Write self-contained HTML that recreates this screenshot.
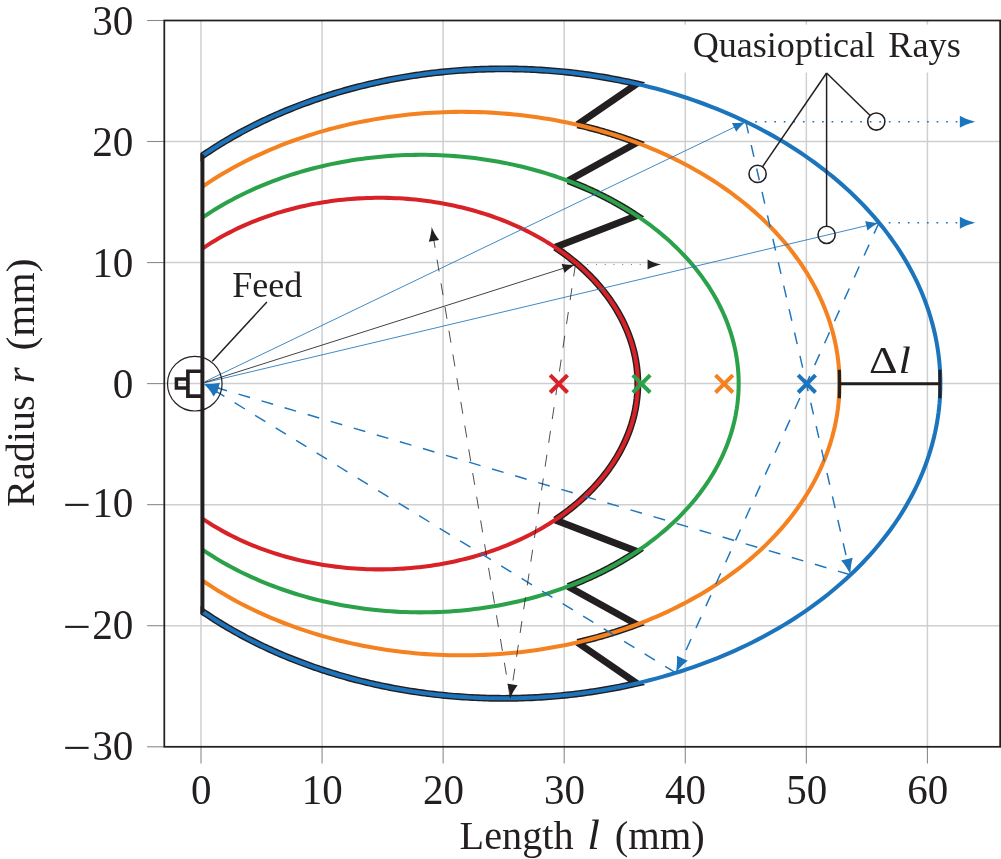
<!DOCTYPE html>
<html><head><meta charset="utf-8"><title>Lens</title>
<style>html,body{margin:0;padding:0;background:#fff;}svg{display:block;will-change:transform;}</style></head>
<body>
<svg width="1001" height="859" viewBox="0 0 1001 859">
<rect width="1001" height="859" fill="#fff"/>
<line x1="201" y1="20.5" x2="201" y2="746.8" stroke="#cfcfcf" stroke-width="1.5"/>
<line x1="322.07" y1="20.5" x2="322.07" y2="746.8" stroke="#cfcfcf" stroke-width="1.5"/>
<line x1="443.14" y1="20.5" x2="443.14" y2="746.8" stroke="#cfcfcf" stroke-width="1.5"/>
<line x1="564.21" y1="20.5" x2="564.21" y2="746.8" stroke="#cfcfcf" stroke-width="1.5"/>
<line x1="685.28" y1="20.5" x2="685.28" y2="746.8" stroke="#cfcfcf" stroke-width="1.5"/>
<line x1="806.35" y1="20.5" x2="806.35" y2="746.8" stroke="#cfcfcf" stroke-width="1.5"/>
<line x1="927.42" y1="20.5" x2="927.42" y2="746.8" stroke="#cfcfcf" stroke-width="1.5"/>
<line x1="164.3" y1="625.7" x2="1000.15" y2="625.7" stroke="#cfcfcf" stroke-width="1.5"/>
<line x1="164.3" y1="504.65" x2="1000.15" y2="504.65" stroke="#cfcfcf" stroke-width="1.5"/>
<line x1="164.3" y1="383.6" x2="1000.15" y2="383.6" stroke="#cfcfcf" stroke-width="1.5"/>
<line x1="164.3" y1="262.55" x2="1000.15" y2="262.55" stroke="#cfcfcf" stroke-width="1.5"/>
<line x1="164.3" y1="141.5" x2="1000.15" y2="141.5" stroke="#cfcfcf" stroke-width="1.5"/>
<line x1="201" y1="746.8" x2="201" y2="763.6" stroke="#8a8a8a" stroke-width="1.1"/>
<line x1="322.07" y1="746.8" x2="322.07" y2="763.6" stroke="#8a8a8a" stroke-width="1.1"/>
<line x1="443.14" y1="746.8" x2="443.14" y2="763.6" stroke="#8a8a8a" stroke-width="1.1"/>
<line x1="564.21" y1="746.8" x2="564.21" y2="763.6" stroke="#8a8a8a" stroke-width="1.1"/>
<line x1="685.28" y1="746.8" x2="685.28" y2="763.6" stroke="#8a8a8a" stroke-width="1.1"/>
<line x1="806.35" y1="746.8" x2="806.35" y2="763.6" stroke="#8a8a8a" stroke-width="1.1"/>
<line x1="927.42" y1="746.8" x2="927.42" y2="763.6" stroke="#8a8a8a" stroke-width="1.1"/>
<line x1="147.1" y1="746.8" x2="164.3" y2="746.8" stroke="#8a8a8a" stroke-width="1.1"/>
<line x1="147.1" y1="625.7" x2="164.3" y2="625.7" stroke="#8a8a8a" stroke-width="1.1"/>
<line x1="147.1" y1="504.65" x2="164.3" y2="504.65" stroke="#8a8a8a" stroke-width="1.1"/>
<line x1="147.1" y1="383.6" x2="164.3" y2="383.6" stroke="#8a8a8a" stroke-width="1.1"/>
<line x1="147.1" y1="262.55" x2="164.3" y2="262.55" stroke="#8a8a8a" stroke-width="1.1"/>
<line x1="147.1" y1="141.5" x2="164.3" y2="141.5" stroke="#8a8a8a" stroke-width="1.1"/>
<line x1="147.1" y1="20.5" x2="164.3" y2="20.5" stroke="#8a8a8a" stroke-width="1.1"/>
<rect x="164.3" y="20.5" width="835.85" height="726.3" fill="none" stroke="#231f20" stroke-width="1.75"/>
<defs><clipPath id="cl"><rect x="200.5" y="0" width="900" height="859"/></clipPath><clipPath id="cl2"><rect x="202" y="0" width="900" height="859"/></clipPath></defs>
<g clip-path="url(#cl)" fill="none" stroke="#231f20" stroke-linejoin="miter" stroke-miterlimit="10" stroke-width="6.9">
<path d="M196.16 160.14 L198.28 158.63 L200.41 157.13 L202.56 155.65 L204.73 154.17 L206.91 152.71 L209.1 151.26 L211.3 149.82 L213.52 148.38 L215.76 146.96 L218 145.55 L220.26 144.15 L222.53 142.77 L224.82 141.39 L227.12 140.03 L229.43 138.67 L231.75 137.33 L234.09 136 L236.44 134.68 L238.8 133.37 L241.17 132.08 L243.56 130.79 L245.96 129.52 L248.37 128.26 L250.79 127.01 L253.22 125.77 L255.67 124.55 L258.13 123.34 L260.6 122.13 L263.08 120.95 L265.57 119.77 L268.07 118.6 L270.58 117.45 L273.11 116.31 L275.64 115.19 L278.19 114.07 L280.74 112.97 L283.31 111.88 L285.88 110.8 L288.47 109.74 L291.07 108.69 L293.67 107.65 L296.29 106.62 L298.92 105.61 L301.55 104.61 L304.2 103.62 L306.85 102.65 L309.51 101.69 L312.18 100.74 L314.87 99.81 L317.56 98.89 L320.25 97.98 L322.96 97.08 L325.68 96.2 L328.4 95.33 L331.13 94.48 L333.87 93.64 L336.62 92.81 L339.38 91.99 L342.14 91.19 L344.91 90.41 L347.69 89.63 L350.47 88.87 L353.26 88.13 L356.06 87.39 L358.87 86.68 L361.68 85.97 L364.5 85.28 L367.33 84.6 L370.16 83.94 L373 83.29 L375.85 82.66 L378.7 82.03 L381.55 81.43 L384.42 80.83 L387.28 80.25 L390.16 79.69 L393.03 79.14 L395.92 78.6 L398.81 78.08 L401.7 77.57 L404.6 77.08 L407.5 76.6 L410.41 76.13 L413.32 75.68 L416.24 75.24 L419.16 74.82 L422.08 74.41 L425.01 74.02 L427.94 73.64 L430.87 73.27 L433.81 72.92 L436.75 72.59 L439.7 72.27 L442.65 71.96 L445.6 71.67 L448.55 71.39 L451.5 71.12 L454.46 70.87 L457.42 70.64 L460.39 70.42 L463.35 70.21 L466.32 70.02 L469.28 69.85 L472.25 69.69 L475.23 69.54 L478.2 69.41 L481.17 69.29 L484.15 69.18 L487.12 69.1 L490.1 69.02 L493.08 68.96 L496.05 68.92 L499.03 68.89 L502.01 68.87 L504.99 68.87 L507.97 68.89 L510.94 68.91 L513.92 68.96 L516.9 69.01 L519.88 69.09 L522.85 69.17 L525.83 69.28 L528.8 69.39 L531.77 69.52 L534.74 69.67 L537.71 69.83 L540.68 70 L543.65 70.19 L546.61 70.4 L549.58 70.61 L552.54 70.85 L555.5 71.09 L558.45 71.36 L561.4 71.63 L564.36 71.92 L567.3 72.23 L570.25 72.55 L573.19 72.88 L576.13 73.23 L579.06 73.6 L582 73.97 L584.92 74.37 L587.85 74.77 L590.77 75.19 L593.68 75.63 L596.6 76.08 L599.5 76.54 L602.41 77.02 L605.31 77.51 L608.2 78.02 L611.09 78.54 L613.97 79.07 L616.85 79.62 L619.73 80.19 L622.6 80.76 L625.46 81.36 L628.32 81.96 L631.17 82.58 L634.01 83.21 L636.85 83.86 L577.45 124.71"/>
<path d="M577.45 124.81 L578.47 125.05 L579.49 125.29 L580.51 125.53 L581.53 125.77 L582.55 126.02 L583.57 126.27 L584.59 126.52 L585.6 126.77 L586.62 127.02 L587.63 127.28 L588.64 127.54 L589.65 127.8 L590.67 128.06 L591.67 128.32 L592.68 128.59 L593.69 128.86 L594.7 129.13 L595.7 129.4 L596.71 129.68 L597.71 129.95 L598.71 130.23 L599.71 130.51 L600.71 130.8 L601.71 131.08 L602.71 131.37 L603.71 131.66 L604.7 131.95 L605.7 132.24 L606.69 132.54 L607.68 132.83 L608.67 133.13 L609.66 133.43 L610.65 133.74 L611.64 134.04 L612.62 134.35 L613.61 134.66 L614.59 134.97 L615.57 135.28 L616.55 135.6 L617.53 135.92 L618.51 136.24 L619.49 136.56 L620.46 136.88 L621.44 137.21 L622.41 137.53 L623.38 137.86 L624.36 138.2 L625.32 138.53 L626.29 138.86 L627.26 139.2 L628.22 139.54 L629.19 139.88 L630.15 140.23 L631.11 140.57 L632.07 140.92 L633.03 141.27 L633.99 141.62 L634.94 141.97 L635.9 142.33 L636.85 142.68 L568.07 180.7"/>
<path d="M568.07 180.82 L569.32 181.29 L570.56 181.77 L571.8 182.25 L573.04 182.73 L574.27 183.22 L575.5 183.71 L576.73 184.2 L577.96 184.7 L579.18 185.2 L580.4 185.71 L581.61 186.22 L582.82 186.73 L584.03 187.25 L585.24 187.77 L586.44 188.3 L587.64 188.83 L588.84 189.36 L590.03 189.9 L591.22 190.44 L592.4 190.98 L593.59 191.53 L594.77 192.08 L595.94 192.64 L597.11 193.2 L598.28 193.76 L599.45 194.33 L600.61 194.9 L601.77 195.48 L602.93 196.06 L604.08 196.64 L605.22 197.22 L606.37 197.81 L607.51 198.41 L608.65 199 L609.78 199.6 L610.91 200.21 L612.04 200.81 L613.16 201.42 L614.28 202.04 L615.39 202.66 L616.5 203.28 L617.61 203.9 L618.71 204.53 L619.81 205.17 L620.91 205.8 L622 206.44 L623.08 207.08 L624.17 207.73 L625.25 208.38 L626.32 209.03 L627.39 209.69 L628.46 210.35 L629.52 211.01 L630.58 211.68 L631.64 212.35 L632.69 213.02 L633.74 213.7 L634.78 214.38 L635.82 215.06 L636.85 215.75 L555.19 247.2"/>
<path d="M196.16 607.06 L198.28 608.57 L200.41 610.07 L202.56 611.55 L204.73 613.03 L206.91 614.49 L209.1 615.94 L211.3 617.38 L213.52 618.82 L215.76 620.24 L218 621.65 L220.26 623.05 L222.53 624.43 L224.82 625.81 L227.12 627.17 L229.43 628.53 L231.75 629.87 L234.09 631.2 L236.44 632.52 L238.8 633.83 L241.17 635.12 L243.56 636.41 L245.96 637.68 L248.37 638.94 L250.79 640.19 L253.22 641.43 L255.67 642.65 L258.13 643.86 L260.6 645.07 L263.08 646.25 L265.57 647.43 L268.07 648.6 L270.58 649.75 L273.11 650.89 L275.64 652.01 L278.19 653.13 L280.74 654.23 L283.31 655.32 L285.88 656.4 L288.47 657.46 L291.07 658.51 L293.67 659.55 L296.29 660.58 L298.92 661.59 L301.55 662.59 L304.2 663.58 L306.85 664.55 L309.51 665.51 L312.18 666.46 L314.87 667.39 L317.56 668.31 L320.25 669.22 L322.96 670.12 L325.68 671 L328.4 671.87 L331.13 672.72 L333.87 673.56 L336.62 674.39 L339.38 675.21 L342.14 676.01 L344.91 676.79 L347.69 677.57 L350.47 678.33 L353.26 679.07 L356.06 679.81 L358.87 680.52 L361.68 681.23 L364.5 681.92 L367.33 682.6 L370.16 683.26 L373 683.91 L375.85 684.54 L378.7 685.17 L381.55 685.77 L384.42 686.37 L387.28 686.95 L390.16 687.51 L393.03 688.06 L395.92 688.6 L398.81 689.12 L401.7 689.63 L404.6 690.12 L407.5 690.6 L410.41 691.07 L413.32 691.52 L416.24 691.96 L419.16 692.38 L422.08 692.79 L425.01 693.18 L427.94 693.56 L430.87 693.93 L433.81 694.28 L436.75 694.61 L439.7 694.93 L442.65 695.24 L445.6 695.53 L448.55 695.81 L451.5 696.08 L454.46 696.33 L457.42 696.56 L460.39 696.78 L463.35 696.99 L466.32 697.18 L469.28 697.35 L472.25 697.51 L475.23 697.66 L478.2 697.79 L481.17 697.91 L484.15 698.02 L487.12 698.1 L490.1 698.18 L493.08 698.24 L496.05 698.28 L499.03 698.31 L502.01 698.33 L504.99 698.33 L507.97 698.31 L510.94 698.29 L513.92 698.24 L516.9 698.19 L519.88 698.11 L522.85 698.03 L525.83 697.92 L528.8 697.81 L531.77 697.68 L534.74 697.53 L537.71 697.37 L540.68 697.2 L543.65 697.01 L546.61 696.8 L549.58 696.59 L552.54 696.35 L555.5 696.11 L558.45 695.84 L561.4 695.57 L564.36 695.28 L567.3 694.97 L570.25 694.65 L573.19 694.32 L576.13 693.97 L579.06 693.6 L582 693.23 L584.92 692.83 L587.85 692.43 L590.77 692.01 L593.68 691.57 L596.6 691.12 L599.5 690.66 L602.41 690.18 L605.31 689.69 L608.2 689.18 L611.09 688.66 L613.97 688.13 L616.85 687.58 L619.73 687.01 L622.6 686.44 L625.46 685.84 L628.32 685.24 L631.17 684.62 L634.01 683.99 L636.85 683.34 L577.45 642.49"/>
<path d="M577.45 642.39 L578.47 642.15 L579.49 641.91 L580.51 641.67 L581.53 641.43 L582.55 641.18 L583.57 640.93 L584.59 640.68 L585.6 640.43 L586.62 640.18 L587.63 639.92 L588.64 639.66 L589.65 639.4 L590.67 639.14 L591.67 638.88 L592.68 638.61 L593.69 638.34 L594.7 638.07 L595.7 637.8 L596.71 637.52 L597.71 637.25 L598.71 636.97 L599.71 636.69 L600.71 636.4 L601.71 636.12 L602.71 635.83 L603.71 635.54 L604.7 635.25 L605.7 634.96 L606.69 634.66 L607.68 634.37 L608.67 634.07 L609.66 633.77 L610.65 633.46 L611.64 633.16 L612.62 632.85 L613.61 632.54 L614.59 632.23 L615.57 631.92 L616.55 631.6 L617.53 631.28 L618.51 630.96 L619.49 630.64 L620.46 630.32 L621.44 629.99 L622.41 629.67 L623.38 629.34 L624.36 629 L625.32 628.67 L626.29 628.34 L627.26 628 L628.22 627.66 L629.19 627.32 L630.15 626.97 L631.11 626.63 L632.07 626.28 L633.03 625.93 L633.99 625.58 L634.94 625.23 L635.9 624.87 L636.85 624.52 L568.07 586.5"/>
<path d="M568.07 586.38 L569.32 585.91 L570.56 585.43 L571.8 584.95 L573.04 584.47 L574.27 583.98 L575.5 583.49 L576.73 583 L577.96 582.5 L579.18 582 L580.4 581.49 L581.61 580.98 L582.82 580.47 L584.03 579.95 L585.24 579.43 L586.44 578.9 L587.64 578.37 L588.84 577.84 L590.03 577.3 L591.22 576.76 L592.4 576.22 L593.59 575.67 L594.77 575.12 L595.94 574.56 L597.11 574 L598.28 573.44 L599.45 572.87 L600.61 572.3 L601.77 571.72 L602.93 571.14 L604.08 570.56 L605.22 569.98 L606.37 569.39 L607.51 568.79 L608.65 568.2 L609.78 567.6 L610.91 566.99 L612.04 566.39 L613.16 565.78 L614.28 565.16 L615.39 564.54 L616.5 563.92 L617.61 563.3 L618.71 562.67 L619.81 562.03 L620.91 561.4 L622 560.76 L623.08 560.12 L624.17 559.47 L625.25 558.82 L626.32 558.17 L627.39 557.51 L628.46 556.85 L629.52 556.19 L630.58 555.52 L631.64 554.85 L632.69 554.18 L633.74 553.5 L634.78 552.82 L635.82 552.14 L636.85 551.45 L555.19 520"/>
<path d="M555.19 247.36 L557.77 249.1 L560.32 250.87 L562.83 252.67 L565.31 254.49 L567.75 256.34 L570.16 258.2 L572.53 260.1 L574.87 262.01 L577.17 263.95 L579.43 265.91 L581.65 267.9 L583.84 269.9 L585.99 271.93 L588.1 273.98 L590.17 276.04 L592.2 278.13 L594.19 280.24 L596.14 282.37 L598.05 284.52 L599.91 286.68 L601.74 288.86 L603.53 291.07 L605.27 293.29 L606.97 295.52 L608.63 297.77 L610.24 300.04 L611.81 302.33 L613.34 304.63 L614.82 306.94 L616.26 309.27 L617.66 311.61 L619.01 313.97 L620.31 316.34 L621.57 318.72 L622.78 321.12 L623.95 323.52 L625.07 325.94 L626.15 328.37 L627.18 330.81 L628.16 333.26 L629.1 335.72 L629.99 338.18 L630.83 340.66 L631.63 343.14 L632.37 345.63 L633.07 348.13 L633.73 350.64 L634.33 353.15 L634.89 355.67 L635.39 358.19 L635.86 360.72 L636.27 363.25 L636.63 365.78 L636.95 368.32 L637.21 370.86 L637.43 373.41 L637.6 375.96 L637.72 378.5 L637.8 381.05 L637.82 383.6 L637.8 386.15 L637.72 388.7 L637.6 391.24 L637.43 393.79 L637.21 396.34 L636.95 398.88 L636.63 401.42 L636.27 403.95 L635.86 406.48 L635.39 409.01 L634.89 411.53 L634.33 414.05 L633.73 416.56 L633.07 419.07 L632.37 421.57 L631.63 424.06 L630.83 426.54 L629.99 429.02 L629.1 431.48 L628.16 433.94 L627.18 436.39 L626.15 438.83 L625.07 441.26 L623.95 443.68 L622.78 446.08 L621.57 448.48 L620.31 450.86 L619.01 453.23 L617.66 455.59 L616.26 457.93 L614.82 460.26 L613.34 462.57 L611.81 464.87 L610.24 467.16 L608.63 469.43 L606.97 471.68 L605.27 473.91 L603.53 476.13 L601.74 478.34 L599.91 480.52 L598.05 482.68 L596.14 484.83 L594.19 486.96 L592.2 489.07 L590.17 491.16 L588.1 493.22 L585.99 495.27 L583.84 497.3 L581.65 499.3 L579.43 501.29 L577.17 503.25 L574.87 505.19 L572.53 507.1 L570.16 509 L567.75 510.86 L565.31 512.71 L562.83 514.53 L560.32 516.33 L557.77 518.1 L555.19 519.84"/>
</g>
<path d="M201 156.73 L205.94 153.36 L210.95 150.04 L216.04 146.79 L221.19 143.59 L226.41 140.44 L231.7 137.36 L237.05 134.34 L242.47 131.37 L247.96 128.47 L253.5 125.63 L259.11 122.86 L264.77 120.14 L270.5 117.49 L276.28 114.91 L282.11 112.39 L288 109.93 L293.94 107.54 L299.93 105.22 L305.97 102.97 L312.06 100.78 L318.2 98.67 L324.38 96.62 L330.6 94.64 L336.87 92.73 L343.18 90.9 L349.52 89.13 L355.91 87.44 L362.32 85.81 L368.78 84.26 L375.26 82.78 L381.78 81.38 L388.33 80.05 L394.9 78.79 L401.5 77.61 L408.13 76.5 L414.78 75.46 L421.45 74.5 L428.14 73.61 L434.85 72.8 L441.57 72.07 L448.31 71.41 L455.07 70.83 L461.83 70.32 L468.61 69.89 L475.39 69.53 L482.19 69.25 L488.98 69.05 L495.78 68.92 L502.59 68.87 L509.39 68.9 L516.19 69 L522.99 69.18 L529.78 69.43 L536.57 69.76 L543.35 70.17 L550.11 70.65 L556.87 71.21 L563.62 71.85 L570.35 72.56 L577.06 73.35 L583.76 74.21 L590.44 75.14 L597.09 76.16 L603.73 77.24 L610.34 78.4 L616.92 79.64 L623.47 80.94 L630 82.33 L636.5 83.78 L642.96 85.31 L649.39 86.91 L655.79 88.58 L662.14 90.32 L668.46 92.14 L674.74 94.02 L680.98 95.98 L687.18 98 L693.33 100.1 L699.43 102.26 L705.49 104.49 L711.49 106.79 L717.45 109.16 L723.36 111.59 L729.21 114.09 L735.01 116.66 L740.75 119.29 L746.43 121.98 L752.06 124.74 L757.62 127.56 L763.13 130.44 L768.57 133.38 L773.94 136.39 L779.25 139.45 L784.5 142.57 L789.67 145.75 L794.78 148.99 L799.81 152.29 L804.77 155.64 L809.67 159.05 L814.48 162.51 L819.22 166.03 L823.89 169.6 L828.47 173.22 L832.98 176.89 L837.41 180.61 L841.75 184.38 L846.02 188.2 L850.2 192.07 L854.3 195.98 L858.31 199.94 L862.24 203.94 L866.08 207.99 L869.83 212.08 L873.49 216.21 L877.06 220.38 L880.55 224.6 L883.94 228.85 L887.23 233.13 L890.44 237.46 L893.55 241.82 L896.57 246.21 L899.49 250.64 L902.32 255.1 L905.05 259.59 L907.68 264.11 L910.21 268.66 L912.65 273.24 L914.98 277.84 L917.22 282.47 L919.35 287.13 L921.39 291.8 L923.32 296.51 L925.15 301.23 L926.88 305.97 L928.51 310.73 L930.03 315.51 L931.45 320.3 L932.77 325.11 L933.98 329.93 L935.09 334.77 L936.09 339.62 L936.99 344.48 L937.78 349.35 L938.47 354.23 L939.05 359.11 L939.53 364 L939.9 368.9 L940.16 373.8 L940.32 378.7 L940.37 383.6 L940.32 388.5 L940.16 393.4 L939.9 398.3 L939.53 403.2 L939.05 408.09 L938.47 412.97 L937.78 417.85 L936.99 422.72 L936.09 427.58 L935.09 432.43 L933.98 437.27 L932.77 442.09 L931.45 446.9 L930.03 451.69 L928.51 456.47 L926.88 461.23 L925.15 465.97 L923.32 470.69 L921.39 475.4 L919.35 480.07 L917.22 484.73 L914.98 489.36 L912.65 493.96 L910.21 498.54 L907.68 503.09 L905.05 507.61 L902.32 512.1 L899.49 516.56 L896.57 520.99 L893.55 525.38 L890.44 529.74 L887.23 534.07 L883.94 538.35 L880.55 542.6 L877.06 546.82 L873.49 550.99 L869.83 555.12 L866.08 559.21 L862.24 563.26 L858.31 567.26 L854.3 571.22 L850.2 575.13 L846.02 579 L841.75 582.82 L837.41 586.59 L832.98 590.31 L828.47 593.98 L823.89 597.6 L819.22 601.17 L814.48 604.69 L809.67 608.15 L804.77 611.56 L799.81 614.91 L794.78 618.21 L789.67 621.45 L784.5 624.63 L779.25 627.75 L773.94 630.81 L768.57 633.82 L763.13 636.76 L757.62 639.64 L752.06 642.46 L746.43 645.22 L740.75 647.91 L735.01 650.54 L729.21 653.11 L723.36 655.61 L717.45 658.04 L711.49 660.41 L705.49 662.71 L699.43 664.94 L693.33 667.1 L687.18 669.2 L680.98 671.22 L674.74 673.18 L668.46 675.06 L662.14 676.88 L655.79 678.62 L649.39 680.29 L642.96 681.89 L636.5 683.42 L630 684.87 L623.47 686.26 L616.92 687.56 L610.34 688.8 L603.73 689.96 L597.09 691.04 L590.44 692.06 L583.76 692.99 L577.06 693.85 L570.35 694.64 L563.62 695.35 L556.87 695.99 L550.11 696.55 L543.35 697.03 L536.57 697.44 L529.78 697.77 L522.99 698.02 L516.19 698.2 L509.39 698.3 L502.59 698.33 L495.78 698.28 L488.98 698.15 L482.19 697.95 L475.39 697.67 L468.61 697.31 L461.83 696.88 L455.07 696.37 L448.31 695.79 L441.57 695.13 L434.85 694.4 L428.14 693.59 L421.45 692.7 L414.78 691.74 L408.13 690.7 L401.5 689.59 L394.9 688.41 L388.33 687.15 L381.78 685.82 L375.26 684.42 L368.78 682.94 L362.32 681.39 L355.91 679.76 L349.52 678.07 L343.18 676.3 L336.87 674.47 L330.6 672.56 L324.38 670.58 L318.2 668.53 L312.06 666.42 L305.97 664.23 L299.93 661.98 L293.94 659.66 L288 657.27 L282.11 654.81 L276.28 652.29 L270.5 649.71 L264.77 647.06 L259.11 644.34 L253.5 641.57 L247.96 638.73 L242.47 635.83 L237.05 632.86 L231.7 629.84 L226.41 626.76 L221.19 623.61 L216.04 620.41 L210.95 617.16 L205.94 613.84 L201 610.47" fill="none" stroke="#1c75bc" stroke-width="4.05" clip-path="url(#cl2)"/>
<path d="M201 187.65 L205.27 184.75 L209.6 181.88 L213.99 179.07 L218.44 176.31 L222.95 173.6 L227.52 170.94 L232.14 168.33 L236.83 165.77 L241.56 163.27 L246.35 160.82 L251.19 158.42 L256.09 156.08 L261.03 153.79 L266.02 151.56 L271.06 149.39 L276.15 147.27 L281.28 145.21 L286.46 143.2 L291.67 141.26 L296.93 139.37 L302.23 137.55 L307.57 135.78 L312.95 134.07 L318.36 132.43 L323.81 130.84 L329.29 129.32 L334.8 127.86 L340.34 126.46 L345.92 125.12 L351.52 123.84 L357.15 122.63 L362.8 121.48 L368.48 120.4 L374.18 119.38 L379.9 118.42 L385.64 117.53 L391.41 116.7 L397.18 115.93 L402.98 115.24 L408.79 114.6 L414.61 114.03 L420.44 113.53 L426.28 113.09 L432.14 112.72 L437.99 112.42 L443.86 112.18 L449.73 112 L455.6 111.89 L461.48 111.85 L467.35 111.87 L473.22 111.96 L479.09 112.12 L484.96 112.34 L490.82 112.62 L496.68 112.98 L502.52 113.4 L508.36 113.88 L514.18 114.43 L520 115.04 L525.79 115.72 L531.58 116.47 L537.34 117.28 L543.09 118.15 L548.82 119.09 L554.53 120.09 L560.21 121.16 L565.87 122.29 L571.51 123.48 L577.12 124.74 L582.7 126.06 L588.25 127.44 L593.78 128.88 L599.27 130.39 L604.72 131.95 L610.15 133.58 L615.53 135.27 L620.88 137.02 L626.19 138.83 L631.46 140.7 L636.7 142.62 L641.88 144.61 L647.03 146.65 L652.13 148.76 L657.18 150.91 L662.19 153.13 L667.14 155.4 L672.05 157.72 L676.91 160.1 L681.72 162.54 L686.47 165.03 L691.17 167.57 L695.81 170.16 L700.39 172.81 L704.92 175.51 L709.39 178.25 L713.8 181.05 L718.15 183.9 L722.43 186.79 L726.66 189.73 L730.81 192.72 L734.91 195.76 L738.94 198.84 L742.9 201.97 L746.79 205.14 L750.61 208.35 L754.36 211.61 L758.05 214.9 L761.66 218.24 L765.2 221.62 L768.66 225.04 L772.05 228.49 L775.37 231.99 L778.61 235.52 L781.77 239.09 L784.85 242.69 L787.86 246.32 L790.79 249.99 L793.64 253.7 L796.41 257.43 L799.09 261.19 L801.7 264.99 L804.22 268.81 L806.66 272.66 L809.02 276.54 L811.29 280.44 L813.48 284.37 L815.58 288.32 L817.6 292.29 L819.53 296.29 L821.37 300.31 L823.13 304.35 L824.8 308.41 L826.38 312.48 L827.87 316.58 L829.28 320.69 L830.59 324.81 L831.82 328.95 L832.95 333.1 L834 337.27 L834.96 341.45 L835.82 345.63 L836.6 349.83 L837.28 354.03 L837.88 358.24 L838.38 362.46 L838.79 366.68 L839.11 370.91 L839.34 375.14 L839.48 379.37 L839.52 383.6 L839.48 387.83 L839.34 392.06 L839.11 396.29 L838.79 400.52 L838.38 404.74 L837.88 408.96 L837.28 413.17 L836.6 417.37 L835.82 421.57 L834.96 425.75 L834 429.93 L832.95 434.1 L831.82 438.25 L830.59 442.39 L829.28 446.51 L827.87 450.62 L826.38 454.72 L824.8 458.79 L823.13 462.85 L821.37 466.89 L819.53 470.91 L817.6 474.91 L815.58 478.88 L813.48 482.83 L811.29 486.76 L809.02 490.66 L806.66 494.54 L804.22 498.39 L801.7 502.21 L799.09 506.01 L796.41 509.77 L793.64 513.5 L790.79 517.21 L787.86 520.88 L784.85 524.51 L781.77 528.11 L778.61 531.68 L775.37 535.21 L772.05 538.71 L768.66 542.16 L765.2 545.58 L761.66 548.96 L758.05 552.3 L754.36 555.59 L750.61 558.85 L746.79 562.06 L742.9 565.23 L738.94 568.36 L734.91 571.44 L730.81 574.48 L726.66 577.47 L722.43 580.41 L718.15 583.3 L713.8 586.15 L709.39 588.95 L704.92 591.69 L700.39 594.39 L695.81 597.04 L691.17 599.63 L686.47 602.17 L681.72 604.66 L676.91 607.1 L672.05 609.48 L667.14 611.8 L662.19 614.07 L657.18 616.29 L652.13 618.44 L647.03 620.55 L641.88 622.59 L636.7 624.58 L631.46 626.5 L626.19 628.37 L620.88 630.18 L615.53 631.93 L610.15 633.62 L604.72 635.25 L599.27 636.81 L593.78 638.32 L588.25 639.76 L582.7 641.14 L577.12 642.46 L571.51 643.72 L565.87 644.91 L560.21 646.04 L554.53 647.11 L548.82 648.11 L543.09 649.05 L537.34 649.92 L531.58 650.73 L525.79 651.48 L520 652.16 L514.18 652.77 L508.36 653.32 L502.52 653.8 L496.68 654.22 L490.82 654.58 L484.96 654.86 L479.09 655.08 L473.22 655.24 L467.35 655.33 L461.48 655.35 L455.6 655.31 L449.73 655.2 L443.86 655.02 L437.99 654.78 L432.14 654.48 L426.28 654.11 L420.44 653.67 L414.61 653.17 L408.79 652.6 L402.98 651.96 L397.18 651.27 L391.41 650.5 L385.64 649.67 L379.9 648.78 L374.18 647.82 L368.48 646.8 L362.8 645.72 L357.15 644.57 L351.52 643.36 L345.92 642.08 L340.34 640.74 L334.8 639.34 L329.29 637.88 L323.81 636.36 L318.36 634.77 L312.95 633.13 L307.57 631.42 L302.23 629.65 L296.93 627.83 L291.67 625.94 L286.46 624 L281.28 621.99 L276.15 619.93 L271.06 617.81 L266.02 615.64 L261.03 613.41 L256.09 611.12 L251.19 608.78 L246.35 606.38 L241.56 603.93 L236.83 601.43 L232.14 598.87 L227.52 596.26 L222.95 593.6 L218.44 590.89 L213.99 588.13 L209.6 585.32 L205.27 582.45 L201 579.55" fill="none" stroke="#f58220" stroke-width="4.05" clip-path="url(#cl2)"/>
<path d="M201 218.58 L204.59 216.13 L208.24 213.73 L211.94 211.36 L215.69 209.04 L219.49 206.75 L223.34 204.52 L227.23 202.32 L231.18 200.17 L235.17 198.06 L239.2 196 L243.28 193.99 L247.4 192.02 L251.56 190.09 L255.77 188.22 L260.01 186.39 L264.3 184.6 L268.62 182.87 L272.98 181.19 L277.37 179.55 L281.8 177.96 L286.26 176.43 L290.76 174.94 L295.29 173.51 L299.85 172.12 L304.43 170.79 L309.05 169.51 L313.69 168.28 L318.36 167.1 L323.05 165.98 L327.77 164.9 L332.51 163.88 L337.27 162.92 L342.05 162.01 L346.86 161.15 L351.67 160.34 L356.51 159.59 L361.36 158.9 L366.23 158.26 L371.11 157.67 L376 157.14 L380.9 156.66 L385.81 156.24 L390.73 155.87 L395.66 155.56 L400.59 155.3 L405.53 155.1 L410.48 154.95 L415.42 154.86 L420.37 154.83 L425.31 154.85 L430.26 154.92 L435.2 155.06 L440.14 155.24 L445.08 155.48 L450.01 155.78 L454.93 156.14 L459.84 156.54 L464.75 157.01 L469.64 157.52 L474.53 158.1 L479.39 158.72 L484.25 159.41 L489.09 160.14 L493.91 160.93 L498.72 161.78 L503.51 162.68 L508.27 163.63 L513.02 164.63 L517.74 165.69 L522.44 166.8 L527.12 167.97 L531.77 169.18 L536.39 170.45 L540.98 171.77 L545.55 173.14 L550.09 174.56 L554.59 176.04 L559.06 177.56 L563.5 179.13 L567.9 180.76 L572.27 182.43 L576.6 184.15 L580.9 185.92 L585.15 187.73 L589.37 189.6 L593.54 191.51 L597.67 193.47 L601.76 195.47 L605.81 197.52 L609.81 199.62 L613.77 201.76 L617.67 203.94 L621.53 206.17 L625.35 208.44 L629.11 210.75 L632.82 213.11 L636.48 215.5 L640.09 217.94 L643.65 220.42 L647.15 222.93 L650.59 225.49 L653.98 228.08 L657.32 230.71 L660.6 233.38 L663.82 236.09 L666.98 238.83 L670.08 241.6 L673.12 244.41 L676.09 247.26 L679.01 250.14 L681.87 253.05 L684.66 255.99 L687.39 258.96 L690.05 261.96 L692.65 264.99 L695.18 268.05 L697.64 271.14 L700.04 274.26 L702.37 277.4 L704.63 280.57 L706.83 283.76 L708.95 286.98 L711 290.22 L712.99 293.48 L714.9 296.77 L716.74 300.08 L718.51 303.4 L720.21 306.75 L721.84 310.11 L723.39 313.5 L724.87 316.89 L726.27 320.31 L727.61 323.74 L728.86 327.19 L730.04 330.65 L731.15 334.12 L732.18 337.6 L733.14 341.1 L734.02 344.6 L734.83 348.12 L735.56 351.64 L736.21 355.17 L736.79 358.71 L737.29 362.26 L737.71 365.81 L738.06 369.36 L738.33 372.92 L738.52 376.48 L738.63 380.04 L738.67 383.6 L738.63 387.16 L738.52 390.72 L738.33 394.28 L738.06 397.84 L737.71 401.39 L737.29 404.94 L736.79 408.49 L736.21 412.03 L735.56 415.56 L734.83 419.08 L734.02 422.6 L733.14 426.1 L732.18 429.6 L731.15 433.08 L730.04 436.55 L728.86 440.01 L727.61 443.46 L726.27 446.89 L724.87 450.31 L723.39 453.7 L721.84 457.09 L720.21 460.45 L718.51 463.8 L716.74 467.12 L714.9 470.43 L712.99 473.72 L711 476.98 L708.95 480.22 L706.83 483.44 L704.63 486.63 L702.37 489.8 L700.04 492.94 L697.64 496.06 L695.18 499.15 L692.65 502.21 L690.05 505.24 L687.39 508.24 L684.66 511.21 L681.87 514.15 L679.01 517.06 L676.09 519.94 L673.12 522.79 L670.08 525.6 L666.98 528.37 L663.82 531.11 L660.6 533.82 L657.32 536.49 L653.98 539.12 L650.59 541.71 L647.15 544.27 L643.65 546.78 L640.09 549.26 L636.48 551.7 L632.82 554.09 L629.11 556.45 L625.35 558.76 L621.53 561.03 L617.67 563.26 L613.77 565.44 L609.81 567.58 L605.81 569.68 L601.76 571.73 L597.67 573.73 L593.54 575.69 L589.37 577.6 L585.15 579.47 L580.9 581.28 L576.6 583.05 L572.27 584.77 L567.9 586.44 L563.5 588.07 L559.06 589.64 L554.59 591.16 L550.09 592.64 L545.55 594.06 L540.98 595.43 L536.39 596.75 L531.77 598.02 L527.12 599.23 L522.44 600.4 L517.74 601.51 L513.02 602.57 L508.27 603.57 L503.51 604.52 L498.72 605.42 L493.91 606.27 L489.09 607.06 L484.25 607.79 L479.39 608.48 L474.53 609.1 L469.64 609.68 L464.75 610.19 L459.84 610.66 L454.93 611.06 L450.01 611.42 L445.08 611.72 L440.14 611.96 L435.2 612.14 L430.26 612.28 L425.31 612.35 L420.37 612.37 L415.42 612.34 L410.48 612.25 L405.53 612.1 L400.59 611.9 L395.66 611.64 L390.73 611.33 L385.81 610.96 L380.9 610.54 L376 610.06 L371.11 609.53 L366.23 608.94 L361.36 608.3 L356.51 607.61 L351.67 606.86 L346.86 606.05 L342.05 605.19 L337.27 604.28 L332.51 603.32 L327.77 602.3 L323.05 601.22 L318.36 600.1 L313.69 598.92 L309.05 597.69 L304.43 596.41 L299.85 595.08 L295.29 593.69 L290.76 592.26 L286.26 590.77 L281.8 589.24 L277.37 587.65 L272.98 586.01 L268.62 584.33 L264.3 582.6 L260.01 580.81 L255.77 578.98 L251.56 577.11 L247.4 575.18 L243.28 573.21 L239.2 571.2 L235.17 569.14 L231.18 567.03 L227.23 564.88 L223.34 562.68 L219.49 560.45 L215.69 558.16 L211.94 555.84 L208.24 553.47 L204.59 551.07 L201 548.62" fill="none" stroke="#2ba24a" stroke-width="4.05" clip-path="url(#cl2)"/>
<path d="M201 249.51 L203.92 247.52 L206.89 245.57 L209.89 243.65 L212.94 241.76 L216.03 239.91 L219.16 238.09 L222.32 236.31 L225.53 234.57 L228.77 232.86 L232.05 231.19 L235.36 229.55 L238.71 227.95 L242.1 226.39 L245.52 224.87 L248.96 223.39 L252.45 221.94 L255.96 220.53 L259.5 219.17 L263.07 217.84 L266.67 216.55 L270.3 215.31 L273.95 214.1 L277.63 212.94 L281.33 211.82 L285.06 210.74 L288.81 209.7 L292.58 208.7 L296.38 207.74 L300.19 206.83 L304.03 205.96 L307.88 205.14 L311.75 204.35 L315.63 203.62 L319.53 202.92 L323.45 202.27 L327.38 201.66 L331.32 201.1 L335.27 200.58 L339.24 200.1 L343.21 199.67 L347.19 199.28 L351.18 198.94 L355.18 198.64 L359.18 198.39 L363.19 198.19 L367.21 198.02 L371.22 197.91 L375.24 197.83 L379.26 197.81 L383.28 197.82 L387.29 197.89 L391.31 197.99 L395.32 198.15 L399.33 198.35 L403.34 198.59 L407.34 198.88 L411.33 199.21 L415.31 199.59 L419.29 200.01 L423.26 200.47 L427.21 200.98 L431.16 201.54 L435.09 202.14 L439.01 202.78 L442.91 203.47 L446.8 204.2 L450.67 204.97 L454.53 205.79 L458.36 206.65 L462.18 207.55 L465.98 208.5 L469.76 209.48 L473.51 210.52 L477.24 211.59 L480.95 212.7 L484.64 213.86 L488.3 215.05 L491.93 216.29 L495.53 217.57 L499.11 218.89 L502.66 220.25 L506.18 221.64 L509.67 223.08 L513.12 224.56 L516.55 226.07 L519.94 227.62 L523.29 229.21 L526.62 230.84 L529.9 232.51 L533.15 234.21 L536.36 235.95 L539.54 237.72 L542.68 239.53 L545.77 241.37 L548.83 243.25 L551.84 245.16 L554.82 247.11 L557.75 249.09 L560.64 251.1 L563.48 253.14 L566.28 255.22 L569.03 257.32 L571.74 259.46 L574.4 261.63 L577.02 263.83 L579.59 266.05 L582.1 268.31 L584.57 270.59 L586.99 272.9 L589.36 275.23 L591.68 277.6 L593.95 279.98 L596.16 282.4 L598.33 284.84 L600.44 287.3 L602.49 289.78 L604.49 292.29 L606.44 294.82 L608.34 297.37 L610.17 299.94 L611.95 302.54 L613.68 305.15 L615.35 307.78 L616.96 310.43 L618.51 313.1 L620.01 315.78 L621.45 318.48 L622.83 321.2 L624.15 323.93 L625.41 326.68 L626.61 329.44 L627.75 332.21 L628.83 335 L629.85 337.8 L630.81 340.61 L631.71 343.42 L632.55 346.25 L633.33 349.09 L634.04 351.94 L634.7 354.79 L635.29 357.65 L635.82 360.52 L636.29 363.39 L636.7 366.27 L637.04 369.15 L637.32 372.04 L637.54 374.93 L637.7 377.82 L637.79 380.71 L637.82 383.6 L637.79 386.49 L637.7 389.38 L637.54 392.27 L637.32 395.16 L637.04 398.05 L636.7 400.93 L636.29 403.81 L635.82 406.68 L635.29 409.55 L634.7 412.41 L634.04 415.26 L633.33 418.11 L632.55 420.95 L631.71 423.78 L630.81 426.59 L629.85 429.4 L628.83 432.2 L627.75 434.99 L626.61 437.76 L625.41 440.52 L624.15 443.27 L622.83 446 L621.45 448.72 L620.01 451.42 L618.51 454.1 L616.96 456.77 L615.35 459.42 L613.68 462.05 L611.95 464.66 L610.17 467.26 L608.34 469.83 L606.44 472.38 L604.49 474.91 L602.49 477.42 L600.44 479.9 L598.33 482.36 L596.16 484.8 L593.95 487.22 L591.68 489.6 L589.36 491.97 L586.99 494.3 L584.57 496.61 L582.1 498.89 L579.59 501.15 L577.02 503.37 L574.4 505.57 L571.74 507.74 L569.03 509.88 L566.28 511.98 L563.48 514.06 L560.64 516.1 L557.75 518.11 L554.82 520.09 L551.84 522.04 L548.83 523.95 L545.77 525.83 L542.68 527.67 L539.54 529.48 L536.36 531.25 L533.15 532.99 L529.9 534.69 L526.62 536.36 L523.29 537.99 L519.94 539.58 L516.55 541.13 L513.12 542.64 L509.67 544.12 L506.18 545.56 L502.66 546.95 L499.11 548.31 L495.53 549.63 L491.93 550.91 L488.3 552.15 L484.64 553.34 L480.95 554.5 L477.24 555.61 L473.51 556.68 L469.76 557.72 L465.98 558.7 L462.18 559.65 L458.36 560.55 L454.53 561.41 L450.67 562.23 L446.8 563 L442.91 563.73 L439.01 564.42 L435.09 565.06 L431.16 565.66 L427.21 566.22 L423.26 566.73 L419.29 567.19 L415.31 567.61 L411.33 567.99 L407.34 568.32 L403.34 568.61 L399.33 568.85 L395.32 569.05 L391.31 569.21 L387.29 569.31 L383.28 569.38 L379.26 569.39 L375.24 569.37 L371.22 569.29 L367.21 569.18 L363.19 569.01 L359.18 568.81 L355.18 568.56 L351.18 568.26 L347.19 567.92 L343.21 567.53 L339.24 567.1 L335.27 566.62 L331.32 566.1 L327.38 565.54 L323.45 564.93 L319.53 564.28 L315.63 563.58 L311.75 562.85 L307.88 562.06 L304.03 561.24 L300.19 560.37 L296.38 559.46 L292.58 558.5 L288.81 557.5 L285.06 556.46 L281.33 555.38 L277.63 554.26 L273.95 553.1 L270.3 551.89 L266.67 550.65 L263.07 549.36 L259.5 548.03 L255.96 546.67 L252.45 545.26 L248.96 543.81 L245.52 542.33 L242.1 540.81 L238.71 539.25 L235.36 537.65 L232.05 536.01 L228.77 534.34 L225.53 532.63 L222.32 530.89 L219.16 529.11 L216.03 527.29 L212.94 525.44 L209.89 523.55 L206.89 521.63 L203.92 519.68 L201 517.69" fill="none" stroke="#d72327" stroke-width="4.05" clip-path="url(#cl2)"/>
<path d="M200.5 152.93 L204.4 155.23 L204.4 611.97 L200.5 614.27 Z" fill="#231f20"/>
<line x1="204.6" y1="381.87" x2="735.27" y2="126.75" stroke="#1c75bc" stroke-width="0.85" stroke-linecap="butt"/>
<path d="M745.81 121.68 C742.97 123.77 738.74 127.97 736.21 131.71 L731.99 122.92 C736.49 123.28 742.41 122.6 745.81 121.68Z" fill="#1c75bc"/>
<line x1="204.6" y1="382.75" x2="867.61" y2="225.4" stroke="#1c75bc" stroke-width="0.85" stroke-linecap="butt"/>
<path d="M878.99 222.7 C875.77 224.13 870.74 227.33 867.47 230.44 L865.22 220.96 C869.54 222.27 875.47 222.87 878.99 222.7Z" fill="#1c75bc"/>
<line x1="204.6" y1="382.45" x2="564.32" y2="268.03" stroke="#231f20" stroke-width="0.85" stroke-linecap="butt"/>
<path d="M575.47 264.49 C572.36 266.16 567.59 269.72 564.56 273.07 L561.6 263.78 C566.01 264.77 571.97 264.92 575.47 264.49Z" fill="#231f20"/>
<line x1="745.61" y1="121.68" x2="961.45" y2="121.68" stroke="#1c75bc" stroke-width="1.6" stroke-dasharray="1.7 7.85" stroke-linecap="butt"/>
<path d="M975.85 121.68 C971.58 122.48 964.65 124.88 959.85 127.68 L959.85 115.68 C964.65 118.48 971.58 120.88 975.85 121.68Z" fill="#1c75bc"/>
<line x1="879.19" y1="222.7" x2="961.45" y2="222.7" stroke="#1c75bc" stroke-width="1.6" stroke-dasharray="1.7 7.85" stroke-linecap="butt"/>
<path d="M975.85 222.7 C971.58 223.5 964.65 225.9 959.85 228.7 L959.85 216.7 C964.65 219.5 971.58 221.9 975.85 222.7Z" fill="#1c75bc"/>
<line x1="578.47" y1="264.49" x2="648.92" y2="264.49" stroke="#555" stroke-width="0.8" stroke-dasharray="1 7.75" stroke-linecap="butt"/>
<path d="M661.07 264.49 C657.47 265.16 651.62 267.19 647.57 269.55 L647.57 259.42 C651.62 261.79 657.47 263.81 661.07 264.49Z" fill="#231f20"/>
<line x1="745.81" y1="121.68" x2="847.3" y2="560.78" stroke="#1c75bc" stroke-width="1.45" stroke-dasharray="12.02 12.02" stroke-linecap="butt"/>
<path d="M850.54 574.81 C848.8 570.83 844.9 564.62 841.09 560.57 L852.79 557.87 C851.14 563.18 850.36 570.47 850.54 574.81Z" fill="#1c75bc"/>
<line x1="878.99" y1="222.7" x2="681.68" y2="659.74" stroke="#1c75bc" stroke-width="1.45" stroke-dasharray="12.02 12.02" stroke-linecap="butt"/>
<path d="M675.76 672.87 C676.78 668.65 677.45 661.34 676.87 655.81 L687.81 660.75 C683.28 663.97 678.24 669.31 675.76 672.87Z" fill="#1c75bc"/>
<line x1="215.41" y1="387.3" x2="850.54" y2="574.81" stroke="#1c75bc" stroke-width="1.45" stroke-dasharray="12.02 12.02"/>
<path d="M203.9 383.9 C207.95 384.31 214.82 384 219.88 382.75 L216.69 393.54 C213.12 389.75 207.52 385.75 203.9 383.9Z" fill="#1c75bc"/>
<line x1="214.13" y1="390.17" x2="675.76" y2="672.87" stroke="#1c75bc" stroke-width="1.45" stroke-dasharray="12.02 12.02"/>
<path d="M203.9 383.9 C207.7 385.35 214.42 386.83 219.63 386.94 L213.75 396.53 C211.29 391.94 206.92 386.63 203.9 383.9Z" fill="#1c75bc"/>
<line x1="575.47" y1="264.49" x2="512.2" y2="685.83" stroke="#231f20" stroke-width="0.8" stroke-dasharray="12.02 12.02" stroke-linecap="butt"/>
<path d="M510.33 698.29 C510.2 694.5 509.02 688.19 507.22 683.67 L517.6 685.23 C514.56 689.02 511.58 694.71 510.33 698.29Z" fill="#231f20"/>
<line x1="510.33" y1="698.29" x2="433.71" y2="239.51" stroke="#231f20" stroke-width="0.8" stroke-dasharray="12.02 12.02" stroke-linecap="butt"/>
<path d="M431.64 227.08 C432.94 230.65 436.01 236.29 439.12 240.03 L428.77 241.76 C430.49 237.21 431.56 230.88 431.64 227.08Z" fill="#231f20"/>
<path d="M798.15 375.1 L815.55 392.5 M798.15 392.5 L815.55 375.1" stroke="#1c75bc" stroke-width="4.0" fill="none"/>
<path d="M715.48 375.1 L732.88 392.5 M715.48 392.5 L732.88 375.1" stroke="#f58220" stroke-width="4.0" fill="none"/>
<path d="M632.82 375.1 L650.22 392.5 M632.82 392.5 L650.22 375.1" stroke="#2ba24a" stroke-width="4.0" fill="none"/>
<path d="M550.15 375.1 L567.55 392.5 M550.15 392.5 L567.55 375.1" stroke="#d72327" stroke-width="4.0" fill="none"/>
<path d="M839.38 383.8 L939.93 383.8" stroke="#231f20" stroke-width="3.0"/>
<path d="M839.38 369.8 L839.38 398.2 M939.93 369.8 L939.93 398.2" stroke="#231f20" stroke-width="3.2"/>
<path d="M201.5 371.2 L187.9 371.2 L187.9 396.05 L201.5 396.05" fill="none" stroke="#231f20" stroke-width="3.65"/>
<path d="M187.9 379.1 L176.4 379.1 L176.4 388.1 L187.9 388.1" fill="none" stroke="#231f20" stroke-width="3.5"/>
<circle cx="194.8" cy="383.7" r="27.3" fill="none" stroke="#231f20" stroke-width="1.2"/>
<line x1="266.9" y1="302" x2="212.3" y2="361.3" stroke="#231f20" stroke-width="1.5"/>
<rect x="683" y="24.6" width="286" height="47.9" fill="#fff"/>
<line x1="826.6" y1="73" x2="870.15" y2="115.49" stroke="#231f20" stroke-width="1.5"/>
<circle cx="876.3" cy="121.5" r="8.6" fill="none" stroke="#231f20" stroke-width="1.55"/>
<line x1="826.6" y1="73" x2="762.45" y2="166.8" stroke="#231f20" stroke-width="1.5"/>
<circle cx="757.6" cy="173.9" r="8.6" fill="none" stroke="#231f20" stroke-width="1.55"/>
<line x1="826.6" y1="73" x2="826.6" y2="226.2" stroke="#231f20" stroke-width="1.5"/>
<circle cx="826.6" cy="234.8" r="8.6" fill="none" stroke="#231f20" stroke-width="1.55"/>
<text x="692.7" y="56.6" font-family="'Liberation Serif', serif" font-size="36.1" fill="#231f20">Quasioptical</text>
<text x="888.2" y="56.6" font-family="'Liberation Serif', serif" font-size="36.3" fill="#231f20">Rays</text>
<text x="232.3" y="296.6" font-family="'Liberation Serif', serif" font-size="36" fill="#231f20">Feed</text>
<text x="869.1" y="372.6" font-family="'Liberation Serif', serif" font-size="38" fill="#231f20" textLength="28.6" lengthAdjust="spacingAndGlyphs">Δ</text>
<text x="898.6" y="372.5" font-family="'Liberation Serif', serif" font-size="37" fill="#231f20" font-style="italic" textLength="12.3" lengthAdjust="spacingAndGlyphs">l</text>
<text x="201.3" y="804.3" font-family="'Liberation Serif', serif" font-size="43" fill="#231f20" text-anchor="middle" textLength="20.5" lengthAdjust="spacingAndGlyphs">0</text>
<text x="322.37" y="804.3" font-family="'Liberation Serif', serif" font-size="43" fill="#231f20" text-anchor="middle" textLength="41" lengthAdjust="spacingAndGlyphs">10</text>
<text x="443.44" y="804.3" font-family="'Liberation Serif', serif" font-size="43" fill="#231f20" text-anchor="middle" textLength="41" lengthAdjust="spacingAndGlyphs">20</text>
<text x="564.51" y="804.3" font-family="'Liberation Serif', serif" font-size="43" fill="#231f20" text-anchor="middle" textLength="41" lengthAdjust="spacingAndGlyphs">30</text>
<text x="685.58" y="804.3" font-family="'Liberation Serif', serif" font-size="43" fill="#231f20" text-anchor="middle" textLength="41" lengthAdjust="spacingAndGlyphs">40</text>
<text x="806.65" y="804.3" font-family="'Liberation Serif', serif" font-size="43" fill="#231f20" text-anchor="middle" textLength="41" lengthAdjust="spacingAndGlyphs">50</text>
<text x="927.72" y="804.3" font-family="'Liberation Serif', serif" font-size="43" fill="#231f20" text-anchor="middle" textLength="41" lengthAdjust="spacingAndGlyphs">60</text>
<text x="133.4" y="759.6" font-family="'Liberation Serif', serif" font-size="43" fill="#231f20" text-anchor="end" textLength="41.2" lengthAdjust="spacingAndGlyphs">30</text>
<text x="62.7" y="761.6" font-family="'Liberation Serif', serif" font-size="43" fill="#231f20" textLength="28.4" lengthAdjust="spacingAndGlyphs">−</text>
<text x="133.4" y="638.5" font-family="'Liberation Serif', serif" font-size="43" fill="#231f20" text-anchor="end" textLength="41.2" lengthAdjust="spacingAndGlyphs">20</text>
<text x="62.7" y="640.5" font-family="'Liberation Serif', serif" font-size="43" fill="#231f20" textLength="28.4" lengthAdjust="spacingAndGlyphs">−</text>
<text x="133.4" y="517.45" font-family="'Liberation Serif', serif" font-size="43" fill="#231f20" text-anchor="end" textLength="41.2" lengthAdjust="spacingAndGlyphs">10</text>
<text x="62.7" y="519.45" font-family="'Liberation Serif', serif" font-size="43" fill="#231f20" textLength="28.4" lengthAdjust="spacingAndGlyphs">−</text>
<text x="133.4" y="398" font-family="'Liberation Serif', serif" font-size="43" fill="#231f20" text-anchor="end" textLength="20.6" lengthAdjust="spacingAndGlyphs">0</text>
<text x="133.4" y="276.95" font-family="'Liberation Serif', serif" font-size="43" fill="#231f20" text-anchor="end" textLength="41.2" lengthAdjust="spacingAndGlyphs">10</text>
<text x="133.4" y="155.9" font-family="'Liberation Serif', serif" font-size="43" fill="#231f20" text-anchor="end" textLength="41.2" lengthAdjust="spacingAndGlyphs">20</text>
<text x="133.4" y="34.9" font-family="'Liberation Serif', serif" font-size="43" fill="#231f20" text-anchor="end" textLength="41.2" lengthAdjust="spacingAndGlyphs">30</text>
<text x="459.6" y="849.3" font-family="'Liberation Serif', serif" font-size="40" fill="#231f20" textLength="114" lengthAdjust="spacingAndGlyphs">Length</text>
<text x="587.2" y="849.3" font-family="'Liberation Serif', serif" font-size="41.5" fill="#231f20" font-style="italic" textLength="12.6" lengthAdjust="spacingAndGlyphs">l</text>
<text x="614.7" y="849.3" font-family="'Liberation Serif', serif" font-size="40" fill="#231f20" textLength="90.2" lengthAdjust="spacingAndGlyphs">(mm)</text>
<g transform="translate(33.8 506.9) rotate(-90)">
<text x="0" y="0" font-family="'Liberation Serif', serif" font-size="40" fill="#231f20" textLength="111.6" lengthAdjust="spacingAndGlyphs">Radius</text>
<text x="123.6" y="0" font-family="'Liberation Serif', serif" font-size="41" fill="#231f20" font-style="italic">r</text>
<text x="156.4" y="0" font-family="'Liberation Serif', serif" font-size="40" fill="#231f20" textLength="92" lengthAdjust="spacingAndGlyphs">(mm)</text>
</g>
</svg>
</body></html>
